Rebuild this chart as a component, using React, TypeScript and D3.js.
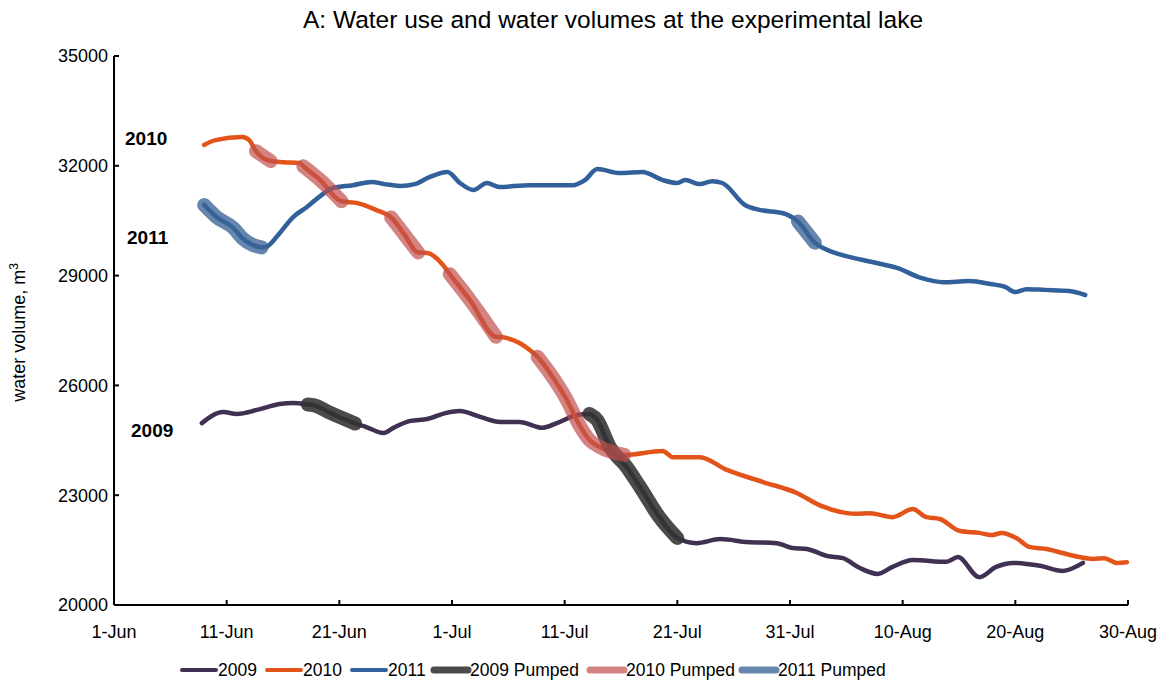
import React from 'react';
import * as d3 from 'd3';

// x values are days counted from 1 June
const xTickDays = [0, 10, 20, 30, 40, 50, 60, 70, 80, 90];
const xTickLabels = ['1-Jun', '11-Jun', '21-Jun', '1-Jul', '11-Jul', '21-Jul', '31-Jul', '10-Aug', '20-Aug', '30-Aug'];
const yTicks = [20000, 23000, 26000, 29000, 32000, 35000];

const days2009 = [7.8, 9.7, 10.9, 12.7, 14.7, 15.9, 17.2, 17.7, 19.2, 21.4, 22.4, 23.9, 24.8, 26.3, 27.8, 29.5, 30.7, 32.5, 34.3, 36, 38, 39.3, 41.1, 42.2, 42.9, 44, 45.5, 46.7, 48.4, 50, 51.7, 53.8, 56.2, 58.8, 60.2, 61.5, 63.3, 64.7, 66.2, 67.8, 69.1, 70.9, 73.9, 74.9, 76.8, 78.3, 79.8, 82.2, 84.2, 86];
const vol2009 = [24970, 25270, 25220, 25330, 25490, 25520, 25480, 25460, 25250, 24960, 24860, 24700, 24840, 25030, 25080, 25250, 25300, 25140, 25000, 25000, 24840, 24970, 25190, 25220, 25050, 24320, 23770, 23220, 22400, 21830, 21690, 21800, 21720, 21690, 21560, 21530, 21340, 21280, 21010, 20850, 21040, 21230, 21180, 21310, 20760, 21040, 21150, 21070, 20930, 21150];

const days2010 = [8, 9, 11.4, 12, 12.6, 13.9, 15.1, 16.5, 16.8, 18.3, 20.2, 21.6, 23.3, 24.6, 25.8, 27, 27.8, 29.2, 29.8, 31.6, 33.9, 34.4, 36.9, 37.6, 39.1, 40.2, 41.3, 42.2, 43.1, 45.3, 48.7, 49.6, 52, 54.4, 57.6, 60.6, 62.6, 65.9, 67.1, 69.1, 70.9, 72.1, 73.3, 75.1, 76.8, 77.9, 78.8, 80.1, 81.3, 82.8, 84.2, 85.7, 86.9, 87.9, 89, 89.9];
const vol2010 = [32570, 32700, 32785, 32700, 32400, 32130, 32100, 32070, 31990, 31610, 31030, 30980, 30790, 30590, 30110, 29630, 29620, 29290, 29040, 28330, 27330, 27320, 26970, 26780, 26150, 25600, 24920, 24510, 24320, 24100, 24210, 24040, 24040, 23690, 23360, 23060, 22730, 22490, 22510, 22400, 22620, 22400, 22350, 22020, 21970, 21910, 21970, 21830, 21580, 21530, 21420, 21310, 21260, 21280, 21150, 21170];

const days2011 = [8, 9.1, 10.6, 11.4, 12.3, 13.1, 13.6, 14.7, 15.9, 17.1, 18.3, 19.4, 21.2, 22.9, 24, 25.4, 26.7, 28, 29.6, 30.7, 31.9, 33.1, 34.2, 36.9, 40.7, 41.8, 42.9, 44.9, 46.9, 48.7, 50, 50.7, 52, 53.1, 54, 56, 57.4, 59.3, 60.7, 62.2, 63.8, 65, 67.3, 69.5, 71.7, 73.6, 75.9, 77.8, 79.1, 80, 81, 82.6, 84.8, 86.2];
const vol2011 = [30930, 30600, 30300, 30020, 29840, 29770, 29800, 30160, 30600, 30870, 31170, 31390, 31470, 31560, 31500, 31450, 31500, 31690, 31830, 31530, 31340, 31530, 31420, 31470, 31470, 31610, 31910, 31800, 31830, 31610, 31530, 31610, 31500, 31580, 31530, 30930, 30790, 30710, 30480, 29900, 29640, 29530, 29370, 29210, 28930, 28820, 28850, 28770, 28690, 28550, 28630, 28610, 28580, 28470];

// pumping periods [first day, last day]
const pumped2009 = [[17.2, 21.4], [42.2, 50]];
const pumped2010 = [[12.6, 13.9], [16.8, 20.2], [24.6, 27], [29.8, 33.9], [37.6, 45.3]];
const pumped2011 = [[8, 13.1], [60.7, 62.2]];

const W = 1169;
const H = 686;

type Pt = { day: number; v: number };

const toPts = (days: number[], vals: number[]): Pt[] => days.map((d, i) => ({ day: d, v: vals[i] }));

const series = [
  { name: '2009', pts: toPts(days2009, vol2009), pumped: pumped2009, color: '#403152', pumpColor: 'rgba(50,50,50,0.88)' },
  { name: '2010', pts: toPts(days2010, vol2010), pumped: pumped2010, color: '#e2541a', pumpColor: 'rgba(192,80,77,0.7)' },
  { name: '2011', pts: toPts(days2011, vol2011), pumped: pumped2011, color: '#31609a', pumpColor: 'rgba(60,100,150,0.78)' },
];

export default function App() {
  const x = d3.scaleLinear().domain([0, 90]).range([114, 1128]);
  const y = d3.scaleLinear().domain([20000, 35000]).range([605, 56]);

  const line = d3.line<Pt>()
    .x(d => x(d.day))
    .y(d => y(d.v))
    .curve(d3.curveMonotoneX);

  const font = 'Liberation Sans, Arial, sans-serif';

  const legend = [
    ...series.map(s => ({ label: s.name, color: s.color, w: 4 })),
    ...series.map(s => ({ label: s.name + ' Pumped', color: s.pumpColor, w: 7 })),
  ];
  const legendX = [180, 265, 350, 432, 588, 740];

  return (
    <svg width={W} height={H} style={{ position: 'absolute', left: 0, top: 0, background: '#fff' }} fontFamily={font}>
      <text x={613} y={28} textAnchor="middle" fontSize={24.5} fill="#000">
        A: Water use and water volumes at the experimental lake
      </text>

      {/* y axis */}
      <line x1={x(0)} x2={x(0)} y1={y(35000)} y2={y(20000)} stroke="#000" strokeWidth={2} />
      {yTicks.map(t => (
        <g key={t}>
          <line x1={x(0)} x2={x(0) + 5} y1={y(t)} y2={y(t)} stroke="#000" strokeWidth={2} />
          <text x={x(0) - 6} y={y(t)} dy="0.35em" textAnchor="end" fontSize={18} fill="#000">{t}</text>
        </g>
      ))}
      <text transform={`translate(25,${(y(20000) + y(35000)) / 2 + 2}) rotate(-90)`} textAnchor="middle" fontSize={18} fill="#000">
        water volume, m<tspan dy="-7" fontSize={12}>3</tspan>
      </text>

      {/* x axis */}
      <line x1={x(0)} x2={x(90)} y1={y(20000)} y2={y(20000)} stroke="#000" strokeWidth={2} />
      {xTickDays.map((d, i) => (
        <g key={d}>
          <line x1={x(d)} x2={x(d)} y1={y(20000)} y2={y(20000) - 5} stroke="#000" strokeWidth={2} />
          <text x={x(d)} y={638} textAnchor="middle" fontSize={18} fill="#000">{xTickLabels[i]}</text>
        </g>
      ))}

      {/* volume lines */}
      {series.map(s => (
        <path key={s.name} d={line(s.pts) || ''} fill="none" stroke={s.color} strokeWidth={4.5} strokeLinejoin="round" strokeLinecap="round" />
      ))}

      {/* pumped periods */}
      {series.map(s => s.pumped.map(([a, b], i) => (
        <path
          key={s.name + i}
          d={line(s.pts.filter(p => p.day >= a - 0.01 && p.day <= b + 0.01)) || ''}
          fill="none"
          stroke={s.pumpColor}
          strokeWidth={14}
          strokeLinejoin="round"
          strokeLinecap="round"
        />
      )))}

      {/* year labels */}
      <text x={125} y={145} fontSize={19} fontWeight="bold" fill="#000">2010</text>
      <text x={127} y={244} fontSize={19} fontWeight="bold" fill="#000">2011</text>
      <text x={131} y={437} fontSize={19} fontWeight="bold" fill="#000">2009</text>

      {/* legend */}
      {legend.map((l, i) => (
        <g key={l.label} transform={`translate(${legendX[i]},670)`}>
          <line x1={2} x2={36} y1={0} y2={0} stroke={l.color} strokeWidth={l.w} strokeLinecap="round" />
          <text x={38} y={0} dy="0.35em" fontSize={17.5} fill="#000">{l.label}</text>
        </g>
      ))}
    </svg>
  );
}
